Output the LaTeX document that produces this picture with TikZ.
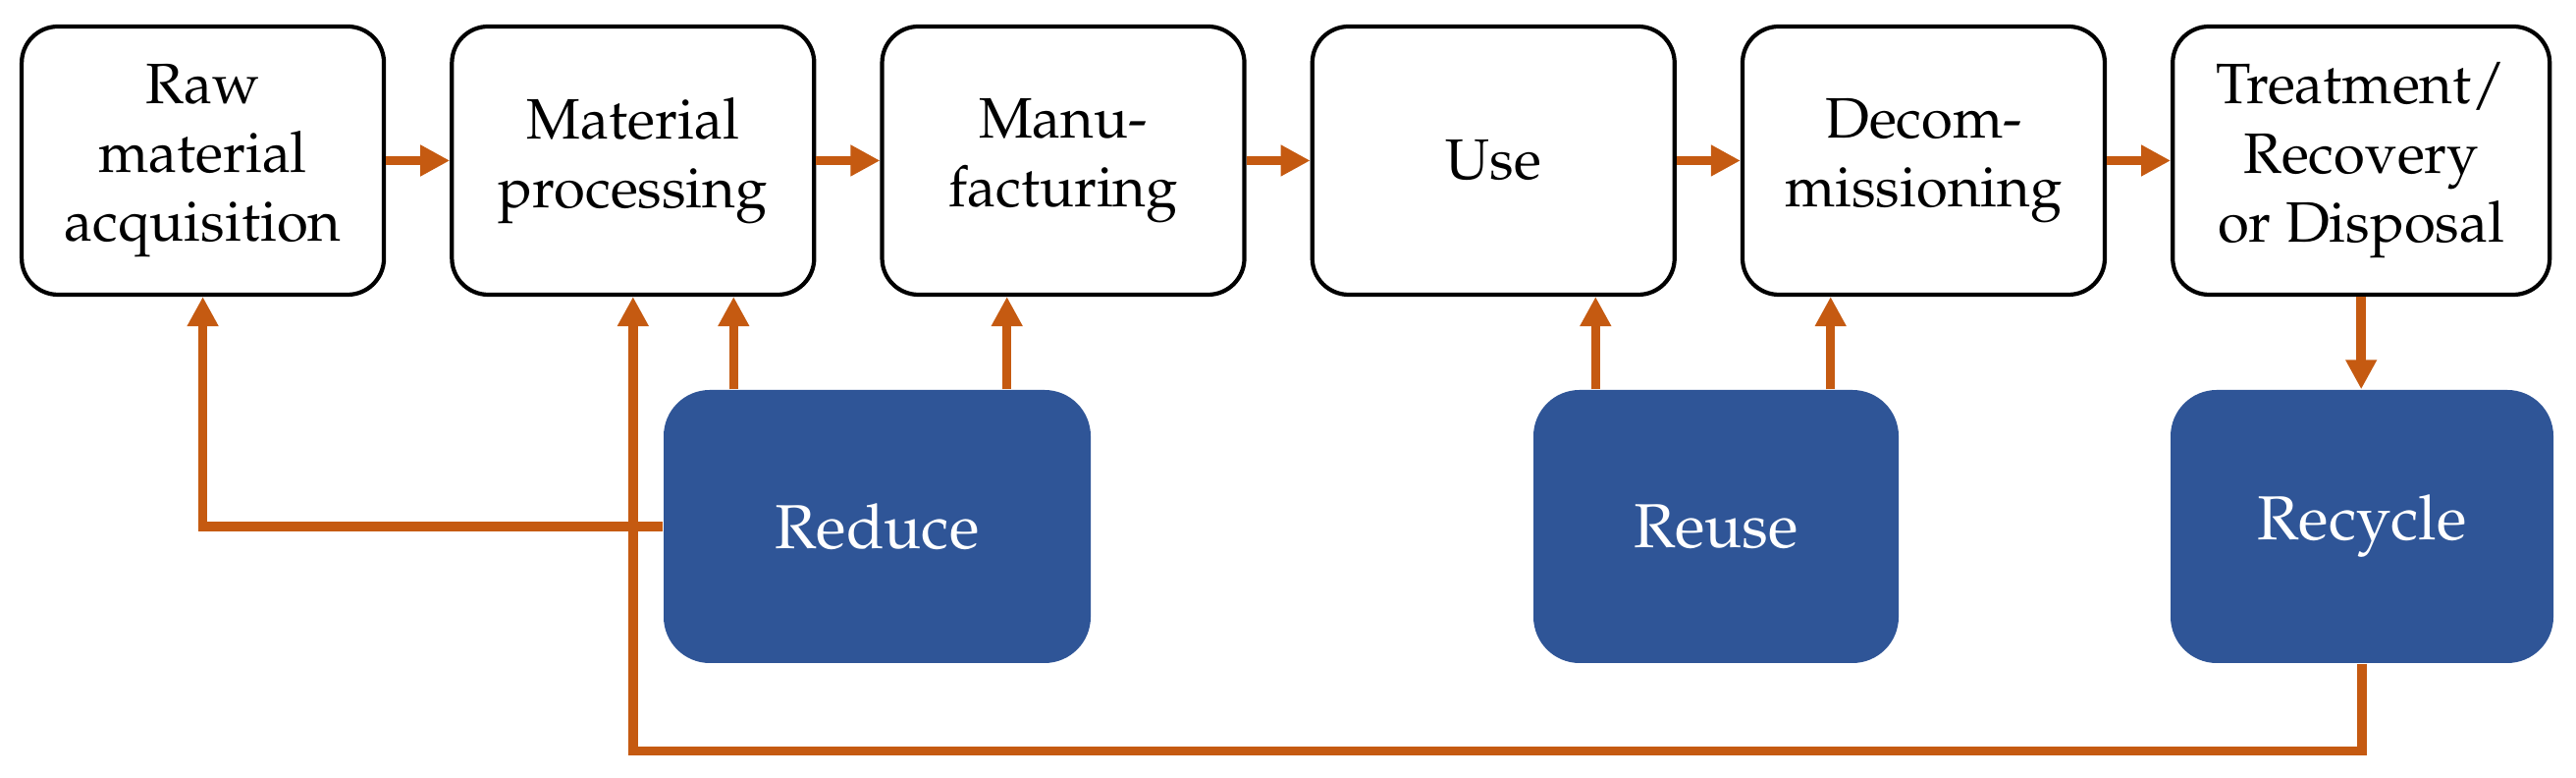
\documentclass[tikz,border=0pt]{standalone}
\usepackage[T1]{fontenc}
\usepackage{mathpazo}
\usepackage{xcolor}
\usepackage{tikz}
\usetikzlibrary{arrows.meta,positioning}
\definecolor{lcaorange}{RGB}{197,90,17}
\definecolor{lcablue}{RGB}{47,85,151}

\begin{document}
\begin{tikzpicture}[line join=miter,>={Triangle[length=0.3cm,width=0.3cm]},x=1.0cm,y=1.0cm,
		stage/.style={draw=black,line width=1.2pt,rounded corners=0.37cm,fill=white,minimum width=3.69cm,minimum height=2.73cm,inner sep=0pt,align=center,font=\fontsize{16.5}{20}\selectfont},
		rbox/.style={fill=lcablue,rounded corners=0.47cm,minimum height=2.78cm,inner sep=0pt,text=white,font=\fontsize{18}{21}\selectfont},
		flow/.style={draw=lcaorange,line width=2.7pt,->}]
	\useasboundingbox (0,0) rectangle (26.24,7.92);
	\node [stage] (raw) at (2.066,6.285) {Raw\\material\\acquisition};
	\node [stage,right=0.65cm of raw] (proc) {Material\\processing};
	\node [stage,right=0.65cm of proc] (manu) {Manu-\\facturing};
	\node [stage,right=0.65cm of manu] (use) {Use};
	\node [stage,right=0.65cm of use] (decom) {Decom-\\missioning};
	\node [stage,right=0.65cm of decom,minimum width=3.84cm] (treat) {Treatment/\\Recovery\\or Disposal};
	\node [rbox,minimum width=4.35cm] (reduce) at (8.935,2.56) {Reduce};
	\node [rbox,minimum width=3.72cm] (reuse) at (17.48,2.56) {Reuse};
	\node [rbox,minimum width=3.90cm] (recycle) at (24.06,2.56) {Recycle};
	% life cycle chain
	\draw [flow] (raw.east) -- (proc.west);
	\draw [flow] (proc.east) -- (manu.west);
	\draw [flow] (manu.east) -- (use.west);
	\draw [flow] (use.east) -- (decom.west);
	\draw [flow] (decom.east) -- (treat.west);
	% reduce
	\draw [flow] (reduce.west) -| (raw.south);
	\draw [flow] ([xshift=0.72cm]reduce.north west) coordinate (rd1) -- (rd1 |- proc.south);
	\draw [flow] ([xshift=-0.86cm]reduce.north east) coordinate (rd2) -- (rd2 |- manu.south);
	% reuse
	\draw [flow] ([xshift=0.64cm]reuse.north west) coordinate (ru1) -- (ru1 |- use.south);
	\draw [flow] ([xshift=-0.70cm]reuse.north east) coordinate (ru2) -- (ru2 |- decom.south);
	% recycle
	\draw [flow] (treat.south) -- (treat.south |- recycle.north);
	\draw [flow] (recycle.south) -- ++(0,-0.89) -| (proc.south);
\end{tikzpicture}
\end{document}
